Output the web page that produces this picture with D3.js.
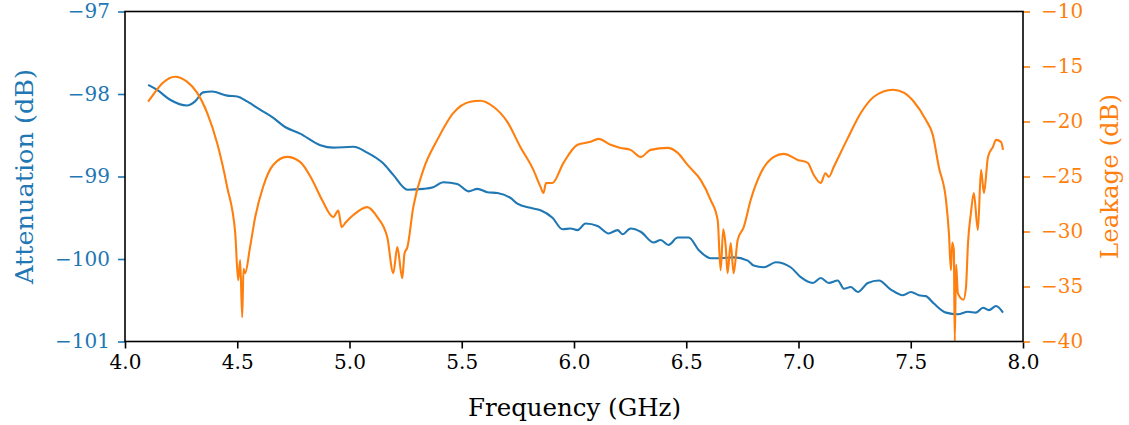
<!DOCTYPE html>
<html><head><meta charset="utf-8">
<script src="https://cdn.jsdelivr.net/npm/d3@7"></script>
<style>body{margin:0;background:#fff}svg{display:block}text{font-family:"DejaVu Serif","Liberation Serif",serif}</style>
</head><body>
<svg id="c" width="1129" height="425"></svg>
<script>
const xTicks = [4.0, 4.5, 5.0, 5.5, 6.0, 6.5, 7.0, 7.5, 8.0];
const attTicks = [-97, -98, -99, -100, -101];
const leakTicks = [-10, -15, -20, -25, -30, -35, -40];

const attFreq = [4.103,4.143,4.201,4.276,4.312,4.348,4.388,4.455,4.50,4.544,4.602,4.656,4.713,4.780,4.870,4.928,5.017,5.079,5.150,5.195,5.258,5.329,5.373,5.418,5.480,5.530,5.570,5.614,5.659,5.717,5.748,5.806,5.851,5.904,5.949,5.984,6.016,6.051,6.105,6.154,6.194,6.216,6.252,6.297,6.355,6.386,6.421,6.462,6.511,6.555,6.609,6.653,6.711,6.774,6.800,6.845,6.899,6.965,7.010,7.064,7.099,7.135,7.175,7.202,7.233,7.264,7.309,7.358,7.411,7.465,7.501,7.536,7.567,7.603,7.657,7.710,7.755,7.790,7.822,7.848,7.880,7.911];
const attVal = [-97.89,-97.95,-98.07,-98.14,-98.09,-97.98,-97.97,-98.02,-98.03,-98.09,-98.19,-98.28,-98.40,-98.48,-98.62,-98.65,-98.64,-98.71,-98.84,-98.98,-99.16,-99.15,-99.13,-99.07,-99.09,-99.18,-99.15,-99.19,-99.20,-99.26,-99.33,-99.38,-99.41,-99.50,-99.64,-99.63,-99.65,-99.57,-99.60,-99.69,-99.65,-99.70,-99.63,-99.67,-99.80,-99.77,-99.83,-99.74,-99.74,-99.89,-99.99,-99.99,-99.98,-100.02,-100.08,-100.10,-100.04,-100.10,-100.22,-100.29,-100.23,-100.29,-100.26,-100.36,-100.34,-100.40,-100.29,-100.26,-100.37,-100.44,-100.40,-100.44,-100.45,-100.54,-100.65,-100.67,-100.64,-100.65,-100.59,-100.62,-100.57,-100.65];

const leakFreq = [4.103,4.125,4.169,4.223,4.276,4.321,4.366,4.410,4.455,4.491,4.504,4.513,4.522,4.528,4.535,4.557,4.580,4.615,4.660,4.722,4.780,4.834,4.878,4.928,4.950,4.965,4.981,5.017,5.079,5.124,5.168,5.195,5.213,5.235,5.245,5.258,5.284,5.329,5.391,5.463,5.538,5.583,5.641,5.703,5.761,5.819,5.850,5.864,5.875,5.904,5.953,6.016,6.074,6.109,6.163,6.207,6.252,6.297,6.341,6.417,6.462,6.506,6.564,6.609,6.640,6.653,6.665,6.676,6.684,6.698,6.711,6.729,6.756,6.787,6.832,6.890,6.934,6.997,7.041,7.068,7.099,7.120,7.135,7.157,7.220,7.278,7.336,7.420,7.469,7.514,7.567,7.598,7.625,7.657,7.670,7.679,7.685,7.692,7.696,7.702,7.710,7.735,7.746,7.755,7.768,7.781,7.799,7.813,7.826,7.844,7.866,7.880,7.902,7.911];
const leakVal = [-18.20,-17.57,-16.47,-15.93,-16.38,-17.38,-19.21,-21.94,-25.95,-30.15,-34.43,-32.60,-37.80,-33.40,-33.79,-31.42,-28.69,-25.95,-23.95,-23.22,-23.67,-25.31,-27.14,-28.69,-28.10,-29.60,-29.23,-28.50,-27.78,-28.69,-30.51,-33.79,-31.42,-34.25,-32.00,-31.42,-27.78,-24.40,-21.67,-19.21,-18.20,-18.11,-18.66,-20.03,-22.31,-24.40,-25.90,-26.50,-25.60,-25.59,-23.76,-22.12,-21.85,-21.58,-22.12,-22.40,-22.58,-23.22,-22.58,-22.40,-22.85,-23.95,-25.31,-27.14,-28.96,-33.52,-29.80,-31.42,-33.79,-31.06,-33.79,-30.78,-29.60,-27.14,-24.68,-23.22,-22.94,-23.49,-23.76,-24.86,-25.59,-24.70,-25.04,-24.13,-21.49,-19.21,-17.75,-17.11,-17.38,-18.20,-19.85,-21.21,-24.13,-27.14,-30.15,-33.52,-31.00,-31.70,-39.95,-33.00,-35.62,-36.20,-35.07,-31.06,-28.32,-26.50,-29.87,-24.40,-26.50,-23.22,-22.31,-21.67,-21.85,-22.58];

const blue = "#1f77b4", orange = "#ff7f0e";
const m = {left: 125, right: 1023, top: 11.5, bottom: 341.5};
const svg = d3.select("#c");
const FONT = '"DejaVu Serif", "Liberation Serif", serif';

const x = d3.scaleLinear().domain([4, 8]).range([m.left, m.right]);
const yA = d3.scaleLinear().domain([-101, -97]).range([m.bottom, m.top]);
const yL = d3.scaleLinear().domain([-40, -10]).range([m.bottom, m.top]);

const minus = s => s.replace("-", "\u2212");

const attData = attFreq.map((f, i) => [f, attVal[i]]);
const leakData = leakFreq.map((f, i) => [f, leakVal[i]]);
svg.append("defs").append("clipPath").attr("id", "clip")
  .append("rect").attr("x", m.left).attr("y", m.top - 1).attr("width", m.right - m.left).attr("height", m.bottom - m.top + 1);
svg.append("path").datum(attData)
  .attr("clip-path", "url(#clip)")
  .attr("fill", "none").attr("stroke", blue).attr("stroke-width", 2.1).attr("stroke-linejoin", "round")
  .attr("d", d3.line().curve(d3.curveMonotoneX).x(d => x(d[0])).y(d => yA(d[1])));
svg.append("path").datum(leakData)
  .attr("clip-path", "url(#clip)")
  .attr("fill", "none").attr("stroke", orange).attr("stroke-width", 2.1).attr("stroke-linejoin", "round")
  .attr("d", d3.line().curve(d3.curveMonotoneX).x(d => x(d[0])).y(d => yL(d[1])));

function styleAxis(g, color, size) {
  g.attr("font-family", FONT);
  g.select(".domain").remove();
  g.selectAll(".tick line").attr("stroke", color).attr("stroke-width", 1.6);
  g.selectAll(".tick text").attr("fill", color).attr("font-size", size);
}
const gx = svg.append("g").attr("transform", `translate(0,${m.bottom})`)
  .call(d3.axisBottom(x).tickValues(xTicks).tickFormat(d3.format(".1f")).tickSize(7).tickPadding(6));
styleAxis(gx, "#000", 20);

const gl = svg.append("g").attr("transform", `translate(${m.left},0)`)
  .call(d3.axisLeft(yA).tickValues(attTicks).tickFormat(d => minus(String(d))).tickSize(7).tickPadding(8));
styleAxis(gl, blue, 20);

const gr = svg.append("g").attr("transform", `translate(${m.right},0)`)
  .call(d3.axisRight(yL).tickValues(leakTicks).tickFormat(d => minus(String(d))).tickSize(7).tickPadding(11));
styleAxis(gr, orange, 20);

svg.append("rect").attr("x", m.left).attr("y", m.top).attr("width", m.right - m.left).attr("height", m.bottom - m.top)
  .attr("fill", "none").attr("stroke", "#000").attr("stroke-width", 1.6);

svg.append("text").attr("x", (m.left + m.right) / 2 + 0.5).attr("y", 416)
  .attr("text-anchor", "middle").attr("font-size", 24).attr("fill", "#000")
  .attr("textLength", 213).attr("lengthAdjust", "spacingAndGlyphs")
  .text("Frequency (GHz)");
svg.append("text").attr("transform", `translate(33,${(m.top + m.bottom) / 2}) rotate(-90)`)
  .attr("text-anchor", "middle").attr("font-size", 24).attr("fill", blue)
  .attr("textLength", 215).attr("lengthAdjust", "spacingAndGlyphs")
  .text("Attenuation (dB)");
svg.append("text").attr("transform", `translate(1118,${(m.top + m.bottom) / 2}) rotate(-90)`)
  .attr("text-anchor", "middle").attr("font-size", 24).attr("fill", orange)
  .attr("textLength", 165).attr("lengthAdjust", "spacingAndGlyphs")
  .text("Leakage (dB)");
</script>
</body></html>
